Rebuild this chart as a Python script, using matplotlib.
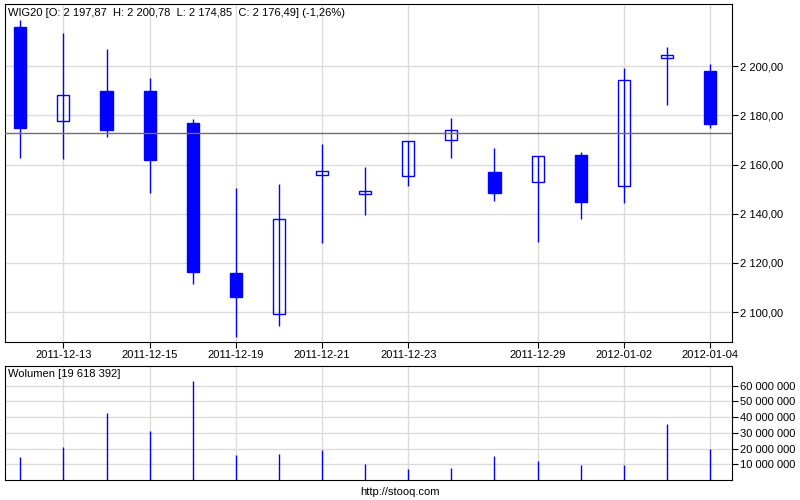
import matplotlib
matplotlib.use("Agg")
import matplotlib.pyplot as plt
from matplotlib.ticker import FuncFormatter

plt.rcParams['font.family'] = ['Liberation Sans', 'DejaVu Sans']
plt.rcParams['font.size'] = 8

dates = ["2011-12-12", "2011-12-13", "2011-12-14", "2011-12-15", "2011-12-16",
         "2011-12-19", "2011-12-20", "2011-12-21", "2011-12-22", "2011-12-23",
         "2011-12-27", "2011-12-28", "2011-12-29", "2011-12-30", "2012-01-02",
         "2012-01-03", "2012-01-04"]
opens = [2215.8, 2177.5, 2189.8, 2189.8, 2176.9, 2116.0, 2099.2, 2155.6, 2148.2,
         2155.3, 2169.8, 2157.0, 2152.8, 2163.9, 2151.2, 2203.1, 2197.87]
highs = [2218.7, 2213.4, 2206.9, 2195.1, 2178.5, 2150.5, 2152.1, 2168.3, 2159.1,
         2169.4, 2178.9, 2166.7, 2163.5, 2165.1, 2199.2, 2207.7, 2200.78]
lows = [2162.8, 2162.4, 2171.1, 2148.6, 2111.6, 2090.1, 2094.2, 2128.3, 2139.6,
        2151.4, 2162.8, 2145.3, 2128.7, 2138.0, 2144.5, 2184.3, 2174.85]
closes = [2174.9, 2188.1, 2174.1, 2162.0, 2116.5, 2106.3, 2137.8, 2157.3, 2149.2,
          2169.4, 2173.9, 2148.6, 2163.5, 2144.9, 2194.2, 2204.5, 2176.49]
volumes = [14.6, 21.0, 42.6, 31.2, 63.0, 15.9, 16.5, 19.1, 10.2, 7.0, 7.6, 15.3,
           12.1, 9.5, 9.5, 35.6, 19.618392]  # millions
ref_level = 2172.7
tick_dates = ["2011-12-13", "2011-12-15", "2011-12-19", "2011-12-21", "2011-12-23",
              "2011-12-29", "2012-01-02", "2012-01-04"]
price_ticks = [2100, 2120, 2140, 2160, 2180, 2200]
vol_ticks = [10, 20, 30, 40, 50, 60]

blue = '#0000ff'
grid = '#dcdcdc'

fig = plt.figure(figsize=(8, 5), dpi=100)
ax = fig.add_axes([5/800, 1-342/500, 727/800, 338/500])
axv = fig.add_axes([5/800, 1-480/500, 727/800, 114/500])

xs = list(range(len(dates)))
tick_pos = [dates.index(d) for d in tick_dates]
w = 0.28

for i in xs:
    o, h, l, c = opens[i], highs[i], lows[i], closes[i]
    ax.vlines(i, l, h, color=blue, lw=1.0, zorder=3)
    lo, hi = min(o, c), max(o, c)
    if c < o:
        ax.add_patch(plt.Rectangle((i-w/2, lo), w, hi-lo, facecolor=blue,
                                   edgecolor=blue, lw=1.0, zorder=4))
    else:
        ax.add_patch(plt.Rectangle((i-w/2, lo), w, hi-lo, facecolor='white',
                                   edgecolor=blue, lw=1.0, zorder=4, fill=False))
        ax.vlines(i, lo, hi, color='white', lw=0, zorder=2)

ax.axhline(ref_level, color='#707070', lw=1.0, zorder=5)

ax.set_xlim(-0.355, 16.51)
ax.set_ylim(2087.9, 2225.2)
ax.set_xticks(tick_pos)
ax.set_xticklabels(tick_dates)
ax.set_yticks(price_ticks)
ax.yaxis.tick_right()
ax.yaxis.set_major_formatter(FuncFormatter(
    lambda v, p: f"{v:,.2f}".replace(",", " ").replace(".", ",")))
ax.grid(True, color=grid, lw=1.0, zorder=0)
ax.set_axisbelow(True)
ax.tick_params(length=4, width=0.8, pad=2, labelsize=8)
ax.text(0.004, 0.988, "WIG20 [O: 2 197,87  H: 2 200,78  L: 2 174,85  C: 2 176,49] (-1,26%)",
        transform=ax.transAxes, ha='left', va='top', fontsize=8)

axv.vlines(xs, 0, volumes, color=blue, lw=1.0, zorder=3)
axv.set_xlim(-0.355, 16.51)
axv.set_ylim(0, 72.5)
axv.set_xticks(tick_pos)
axv.set_xticklabels([])
axv.tick_params(axis='x', length=0)
axv.set_yticks(vol_ticks)
axv.yaxis.tick_right()
axv.yaxis.set_major_formatter(FuncFormatter(
    lambda v, p: f"{int(v*1e6):,}".replace(",", " ")))
axv.tick_params(axis='y', length=4, width=0.8, pad=2, labelsize=8)
axv.grid(True, color=grid, lw=1.0, zorder=0)
axv.set_axisbelow(True)
axv.text(0.004, 0.97, "Wolumen [19 618 392]", transform=axv.transAxes,
         ha='left', va='top', fontsize=8)

fig.text(0.5, 0.016, "http://stooq.com", ha='center', va='center', fontsize=8)

fig.savefig("out.png", dpi=100)
